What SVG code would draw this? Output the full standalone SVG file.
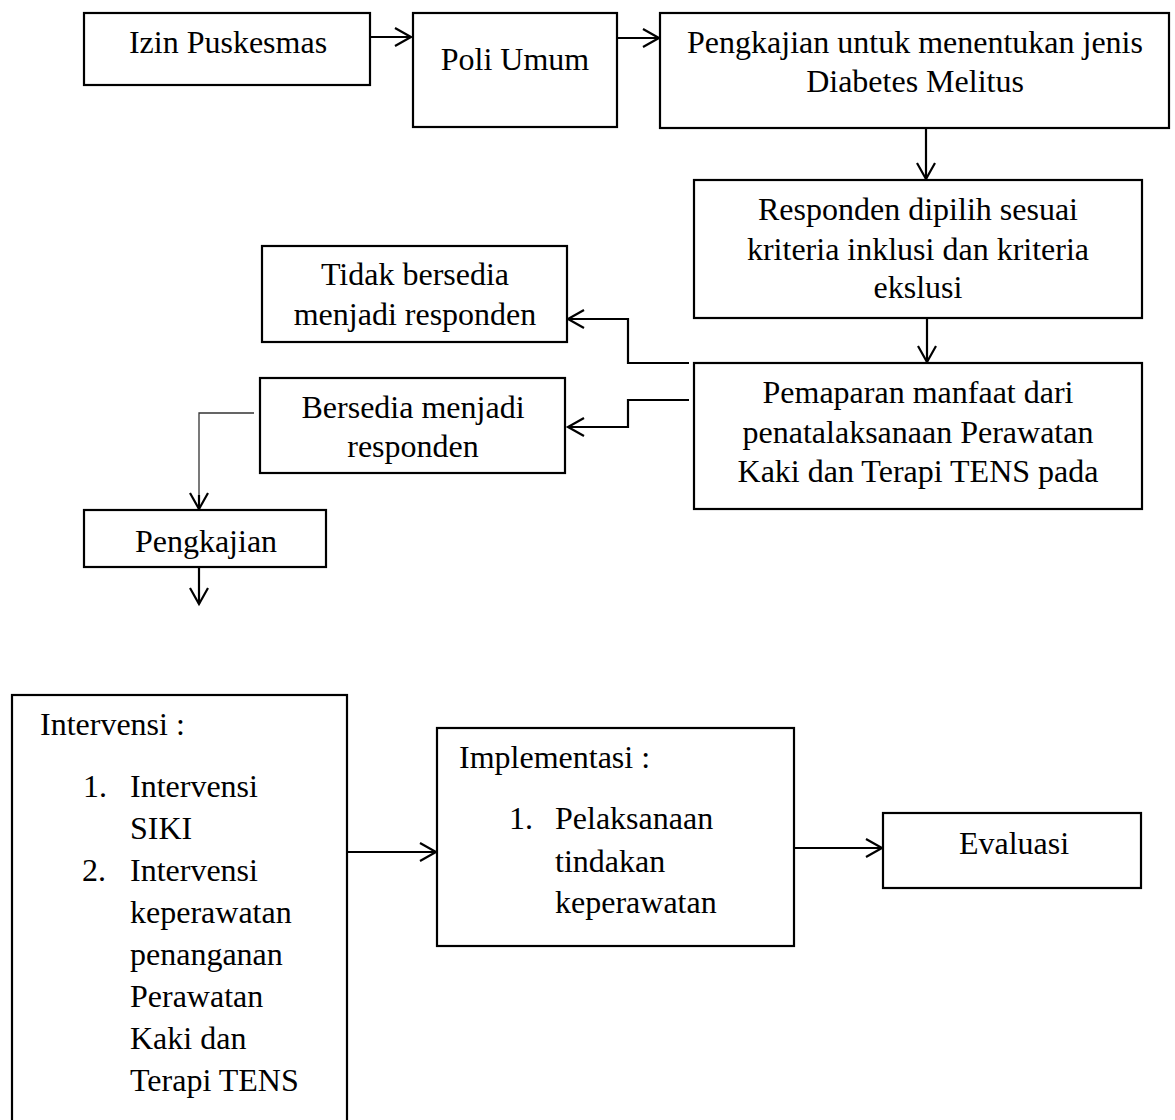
<svg xmlns="http://www.w3.org/2000/svg" width="1175" height="1120" viewBox="0 0 1175 1120">
<style>
.box{fill:#fff;stroke:#000;stroke-width:2.2}
.t{font-family:"Liberation Serif","Times New Roman",serif;font-size:32px;fill:#000}
.c{text-anchor:middle}
.ln{fill:none;stroke:#000;stroke-width:2.2}
.thin{fill:none;stroke:#333;stroke-width:1.3}
</style>
<defs>
<marker id="ah" markerUnits="userSpaceOnUse" markerWidth="24" markerHeight="24" viewBox="-18 -12 20 24" refX="0" refY="0" orient="auto" overflow="visible">
<path d="M-16,-9 L0,0 L-16,9" fill="none" stroke="#000" stroke-width="2.2"/>
</marker>
</defs>
<rect width="1175" height="1120" fill="#fff"/>
<g id="connectors">
<path class="ln" d="M370,37 H411" marker-end="url(#ah)"/>
<path class="ln" d="M617,38 H659" marker-end="url(#ah)"/>
<path class="ln" d="M926,128 V179" marker-end="url(#ah)"/>
<path class="ln" d="M927,312 V362" marker-end="url(#ah)"/>
<path class="ln" d="M689,363 H628 V319 H568" marker-end="url(#ah)"/>
<path class="ln" d="M689,400 H628 V427 H568" marker-end="url(#ah)"/>
<path class="thin" d="M254,413 H199 V509"/>
<path class="ln" d="M199,495 V509" marker-end="url(#ah)" stroke-width="1.6"/>
<path class="ln" d="M199,562 V604" marker-end="url(#ah)"/>
<path class="ln" d="M347,852 H436" marker-end="url(#ah)"/>
<path class="ln" d="M794,848 H882" marker-end="url(#ah)"/>
</g>
<g id="izin">
<rect class="box" x="84" y="13" width="286" height="72"/>
<text class="t c" x="228" y="53">Izin Puskesmas</text>
</g>
<g id="poli">
<rect class="box" x="413" y="13" width="204" height="114"/>
<text class="t c" x="515" y="70">Poli Umum</text>
</g>
<g id="pengkajian-jenis">
<rect class="box" x="660" y="13" width="509" height="115"/>
<text class="t c" x="915" y="53">Pengkajian untuk menentukan jenis</text>
<text class="t c" x="915" y="92">Diabetes Melitus</text>
</g>
<g id="responden">
<rect class="box" x="694" y="180" width="448" height="138"/>
<text class="t c" x="918" y="220">Responden dipilih sesuai</text>
<text class="t c" x="918" y="260">kriteria inklusi dan kriteria</text>
<text class="t c" x="918" y="298">ekslusi</text>
</g>
<g id="pemaparan">
<rect class="box" x="694" y="363" width="448" height="146"/>
<text class="t c" x="918" y="403">Pemaparan manfaat dari</text>
<text class="t c" x="918" y="443">penatalaksanaan Perawatan</text>
<text class="t c" x="918" y="482">Kaki dan Terapi TENS pada</text>
</g>
<g id="tidak">
<rect class="box" x="262" y="246" width="305" height="96"/>
<text class="t c" x="415" y="285">Tidak bersedia</text>
<text class="t c" x="415" y="325">menjadi responden</text>
</g>
<g id="bersedia">
<rect class="box" x="260" y="378" width="305" height="95"/>
<text class="t c" x="413" y="418">Bersedia menjadi</text>
<text class="t c" x="413" y="457">responden</text>
</g>
<g id="pengkajian">
<rect class="box" x="84" y="510" width="242" height="57"/>
<text class="t c" x="206" y="552">Pengkajian</text>
</g>
<g id="intervensi">
<rect class="box" x="12" y="695" width="335" height="440"/>
<text class="t" x="40" y="735">Intervensi :</text>
<text class="t" x="83" y="797">1.</text>
<text class="t" x="130" y="797">Intervensi</text>
<text class="t" x="130" y="839">SIKI</text>
<text class="t" x="82" y="881">2.</text>
<text class="t" x="130" y="881">Intervensi</text>
<text class="t" x="130" y="923">keperawatan</text>
<text class="t" x="130" y="965">penanganan</text>
<text class="t" x="130" y="1007">Perawatan</text>
<text class="t" x="130" y="1049">Kaki dan</text>
<text class="t" x="130" y="1091">Terapi TENS</text>
</g>
<g id="implementasi">
<rect class="box" x="437" y="728" width="357" height="218"/>
<text class="t" x="459" y="768">Implementasi :</text>
<text class="t" x="509" y="829">1.</text>
<text class="t" x="555" y="829">Pelaksanaan</text>
<text class="t" x="555" y="872">tindakan</text>
<text class="t" x="555" y="913">keperawatan</text>
</g>
<g id="evaluasi">
<rect class="box" x="883" y="813" width="258" height="75"/>
<text class="t c" x="1014" y="854">Evaluasi</text>
</g>
</svg>
